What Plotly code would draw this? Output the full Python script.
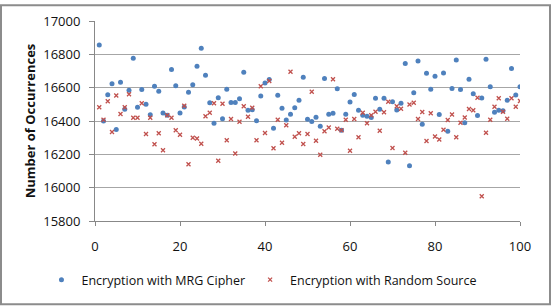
import plotly.graph_objects as go

x_vals = list(range(1, 101))

mrg_cipher = [
    16856, 16400, 16558, 16624, 16349, 16632, 16470, 16585, 16776, 16482,
    16589, 16500, 16437, 16608, 16579, 16448, 16434, 16709, 16612, 16448,
    16484, 16573, 16618, 16728, 16836, 16675, 16509, 16386, 16540, 16414,
    16591, 16511, 16511, 16534, 16692, 16464, 16468, 16402, 16550, 16628,
    16649, 16357, 16554, 16476, 16406, 16440, 16480, 16525, 16663, 16410,
    16397, 16423, 16369, 16655, 16440, 16446, 16593, 16345, 16440, 16514,
    16559, 16464, 16435, 16429, 16421, 16536, 16470, 16536, 16154, 16516,
    16466, 16507, 16745, 16132, 16569, 16760, 16380, 16687, 16591, 16669,
    16439, 16688, 16338, 16595, 16766, 16589, 16390, 16651, 16563, 16433,
    16538, 16770, 16606, 16452, 16464, 16462, 16524, 16715, 16556, 16606,
]

random_source = [
    16482, 16408, 16519, 16334, 16553, 16442, 16482, 16560, 16420, 16420,
    16506, 16322, 16420, 16260, 16326, 16224, 16435, 16420, 16345, 16318,
    16491, 16141, 16299, 16295, 16263, 16428, 16450, 16506, 16161, 16503,
    16285, 16412, 16205, 16396, 16488, 16425, 16480, 16285, 16608, 16328,
    16640, 16236, 16408, 16270, 16375, 16696, 16305, 16326, 16262, 16322,
    16576, 16282, 16197, 16339, 16361, 16651, 16353, 16345, 16408, 16222,
    16412, 16303, 16450, 16386, 16435, 16456, 16341, 16452, 16516, 16238,
    16488, 16474, 16209, 16499, 16509, 16412, 16454, 16280, 16446, 16307,
    16289, 16347, 16406, 16439, 16303, 16390, 16421, 16472, 16464, 16540,
    15948, 16330, 16408, 16486, 16536, 16455, 16414, 16536, 16486, 16520,
]

x_ticks = [0, 20, 40, 60, 80, 100]
y_ticks = [15800, 16000, 16200, 16400, 16600, 16800, 17000]

W, H = 552, 308
ML, MR, MT, MB = 95, 32, 17, 87
pw, ph = W - ML - MR, H - MT - MB

font = "Open Sans, Liberation Sans, Arial, sans-serif"

fig = go.Figure()
fig.add_trace(go.Scatter(
    x=x_vals, y=mrg_cipher, mode="markers", name="Encryption with MRG Cipher",
    marker=dict(symbol="circle", size=5, color="#4F81BD"),
))
fig.add_trace(go.Scatter(
    x=x_vals, y=random_source, mode="markers", name="Encryption with Random Source",
    marker=dict(symbol="x-thin-open", size=4, color="#C0504D",
                line=dict(width=1.3, color="#C0504D")),
))

fig.update_layout(
    width=W, height=H,
    margin=dict(l=ML, r=MR, t=MT, b=MB),
    paper_bgcolor="white", plot_bgcolor="white",
    font=dict(family=font, size=13, color="#111"),
    showlegend=True,
    legend=dict(orientation="h", x=-0.126, xanchor="left", y=-0.22, yanchor="top",
                font=dict(size=12.5), itemwidth=30, tracegroupgap=0,
                bgcolor="rgba(0,0,0,0)"),
    xaxis=dict(range=[0, 100], tickvals=x_ticks, showgrid=False, zeroline=False,
               showline=True, linecolor="#888", linewidth=1,
               ticks="outside", ticklen=4, tickcolor="#888",
               ticklabelstandoff=9),
    yaxis=dict(range=[15800, 17000], tickvals=y_ticks, tickformat="d",
               showgrid=True, gridcolor="#A6A6A6", gridwidth=1, zeroline=False,
               showline=True, linecolor="#888", linewidth=1,
               ticks="outside", ticklen=5, tickcolor="#888",
               ticklabelstandoff=6,
               title=dict(text="<b>Number of Occurrences</b>", font=dict(size=13), standoff=4)),
    shapes=[dict(type="rect", xref="paper", yref="paper",
                 x0=(1 - ML) / pw, x1=(W - 2 - ML) / pw,
                 y0=((H - MB) - (H - 2)) / ph, y1=((H - MB) - 1) / ph,
                 line=dict(color="#8C8C8C", width=2), fillcolor="rgba(0,0,0,0)")],
)

fig.write_html("out.html")
